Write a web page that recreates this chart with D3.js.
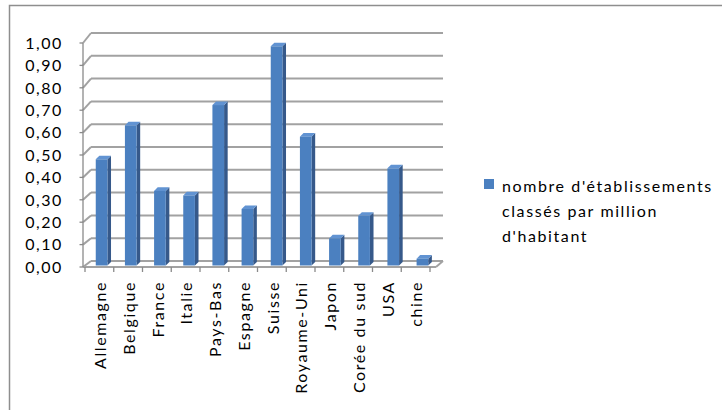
<!DOCTYPE html>
<html><head><meta charset="utf-8">
<script src="https://cdn.jsdelivr.net/npm/d3@7"></script>
<style>
html,body{margin:0;padding:0;background:#fff;}
svg{display:block;}
text{font-family:Lato,"Open Sans",sans-serif;fill:#000;}
</style></head>
<body>
<script>
const categories = ["Allemagne","Belgique","France","Italie","Pays-Bas","Espagne","Suisse","Royaume-Uni","Japon","Corée du sud","USA","chine"];
const values = [0.47,0.62,0.33,0.31,0.71,0.25,0.97,0.57,0.12,0.22,0.43,0.03];
const yTicks = [0,0.1,0.2,0.3,0.4,0.5,0.6,0.7,0.8,0.9,1.0];
const seriesName = ["nombre d'établissements","classés par million","d'habitant"];

const W = 722, H = 410;
const svg = d3.select("body").append("svg").attr("width", W).attr("height", H);

// chart border
svg.append("rect").attr("x",9.5).attr("y",5.5).attr("width",740).attr("height",430)
  .attr("fill","#fff").attr("stroke","#8e8e8e").attr("stroke-width",1.5);

const yFront = d3.scaleLinear().domain([0,1]).range([267,43]);
const yBack = d3.scaleLinear().domain([0,1]).range([261,33]);
const yBar = d3.scaleLinear().domain([0,1]).range([265.5,39.5]);
const xFront0 = 83, xBack0 = 91, xBack1 = 443, xFront1 = 436;
const xCat = d3.scaleBand().domain(categories).range([85,430]);
const xBarS = d3.scaleBand().domain(categories).range([87,437]).paddingInner(0.6).paddingOuter(0.3);

const grid = svg.append("g").attr("stroke","#a2a2a2").attr("stroke-width",2).attr("fill","none");
grid.selectAll("line.h").data(yTicks).join("line").attr("class","h")
  .attr("x1",xBack0).attr("x2",xBack1).attr("y1",d=>yBack(d)).attr("y2",d=>yBack(d));
grid.selectAll("line.d").data(yTicks).join("line").attr("class","d")
  .attr("x1",xFront0).attr("x2",xBack0).attr("y1",d=>yFront(d)).attr("y2",d=>yBack(d));
grid.append("line").attr("x1",xFront0).attr("x2",xFront1).attr("y1",yFront(0)).attr("y2",yFront(0));
grid.append("line").attr("x1",xFront1).attr("x2",xBack1).attr("y1",yFront(0)).attr("y2",yBack(0));

const ax = svg.append("g").attr("stroke","#8a8a8a").attr("stroke-width",1.3);
ax.append("line").attr("x1",xFront0).attr("x2",xFront0).attr("y1",yFront(0)).attr("y2",yFront(1));
ax.selectAll("line.t").data(yTicks).join("line").attr("class","t")
  .attr("x1",xFront0-3.5).attr("x2",xFront0).attr("y1",d=>yFront(d)).attr("y2",d=>yFront(d));
const catEdges = categories.map(c=>xCat(c)).concat([xCat(categories[categories.length-1])+xCat.bandwidth()]);
ax.selectAll("line.c").data(catEdges).join("line").attr("class","c")
  .attr("x1",d=>d).attr("x2",d=>d).attr("y1",yFront(0)).attr("y2",yFront(0)+5);

const fmt = d=>d3.format(".2f")(d).replace(".",",");
svg.append("g").selectAll("text").data(yTicks).join("text")
  .attr("x",63).attr("y",d=>yFront(d)).attr("dy","0.36em").attr("text-anchor","end")
  .style("font-size","16px").style("letter-spacing","1.6px").text(fmt);

const dep = 3.6;
const bars = svg.append("g");
categories.forEach((c,i)=>{
  const x0 = xBarS(c), w = xBarS.bandwidth(), yt = yBar(values[i]), yb = yBar(0);
  bars.append("path").attr("d",`M${x0+w},${yb}L${x0+w+dep},${yb-dep}L${x0+w+dep},${yt-dep}L${x0+w},${yt}Z`)
    .attr("fill","#36598a");
  bars.append("path").attr("d",`M${x0},${yt}L${x0+dep},${yt-dep}L${x0+w+dep},${yt-dep}L${x0+w},${yt}Z`)
    .attr("fill","#6193d2");
  bars.append("rect").attr("x",x0).attr("y",yt).attr("width",w).attr("height",yb-yt).attr("fill","#4b80c0");
});

svg.append("g").selectAll("text").data(categories).join("text")
  .attr("transform",c=>`translate(${xCat(c)+xCat.bandwidth()/2+1},281) rotate(-90)`)
  .attr("text-anchor","end").attr("dy","0.36em")
  .style("font-size","16px").style("letter-spacing","1.6px").text(c=>c);

const lg = svg.append("g");
lg.append("rect").attr("x",484).attr("y",179).attr("width",10).attr("height",10).attr("fill","#4b80c0");
lg.selectAll("text").data(seriesName).join("text")
  .attr("x",502).attr("y",(d,i)=>192+i*25).style("font-size","16px").style("letter-spacing","1.6px").text(d=>d);
</script>
</body></html>
